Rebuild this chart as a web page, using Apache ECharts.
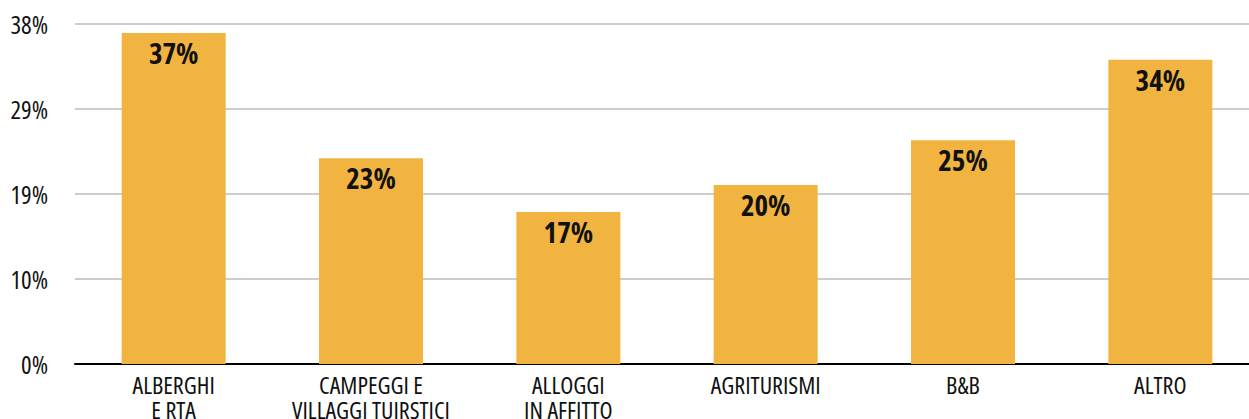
<!DOCTYPE html>
<html>
<head>
<meta charset="utf-8">
<script src="https://cdn.jsdelivr.net/npm/echarts@6/dist/echarts.min.js"></script>
<style>
  html, body { margin: 0; padding: 0; background: #fff; overflow: hidden; }
  #chart { width: 1249px; height: 419px; overflow: hidden; }
  #chart svg { display: block; }
  /* narrow letterforms for every label */
  #chart svg text { font-stretch: condensed !important; }
</style>
</head>
<body>
<div id="chart"></div>
<script>
// Share by accommodation type (%)
const categories = ['ALBERGHI\nE RTA', 'CAMPEGGI E\nVILLAGGI TUIRSTICI', 'ALLOGGI\nIN AFFITTO', 'AGRITURISMI', 'B&B', 'ALTRO'];
const values = [37, 23, 17, 20, 25, 34];
const axisMax = 38;
const axisStep = 9.5;

const FONT = '"Open Sans", "DejaVu Sans Condensed", sans-serif';

const chart = echarts.init(document.getElementById('chart'), null, { renderer: 'svg' });
chart.setOption({
  animation: false,
  backgroundColor: '#ffffff',
  grid: {
    left: 75, top: 24, bottom: 55, width: 1184,
    containLabel: false,
    outerBoundsMode: 'none'
  },
  xAxis: {
    type: 'category',
    data: categories,
    axisTick: { show: false },
    axisLine: { show: true, lineStyle: { color: '#000', width: 2 } },
    axisLabel: {
      color: '#111', fontFamily: FONT, fontSize: 24, lineHeight: 25, margin: 8, interval: 0
    }
  },
  yAxis: {
    type: 'value',
    min: 0,
    max: axisMax,
    interval: axisStep,
    axisLine: { show: false },
    axisTick: { show: false },
    splitLine: { lineStyle: { color: '#cccccc', width: 2 } },
    axisLabel: {
      color: '#111', fontFamily: FONT, fontSize: 25, margin: 27,
      padding: [0, 0, 4, 0],
      formatter: v => Math.round(v) + '%'
    }
  },
  series: [{
    type: 'bar',
    data: values,
    barWidth: '52.7%',
    itemStyle: { color: '#F2B441' },
    label: {
      show: true,
      position: 'insideTop',
      distance: 5,
      formatter: p => p.value + '%',
      color: '#111',
      fontFamily: FONT,
      fontWeight: 'bold',
      fontSize: 29
    }
  }]
});
</script>
</body>
</html>
